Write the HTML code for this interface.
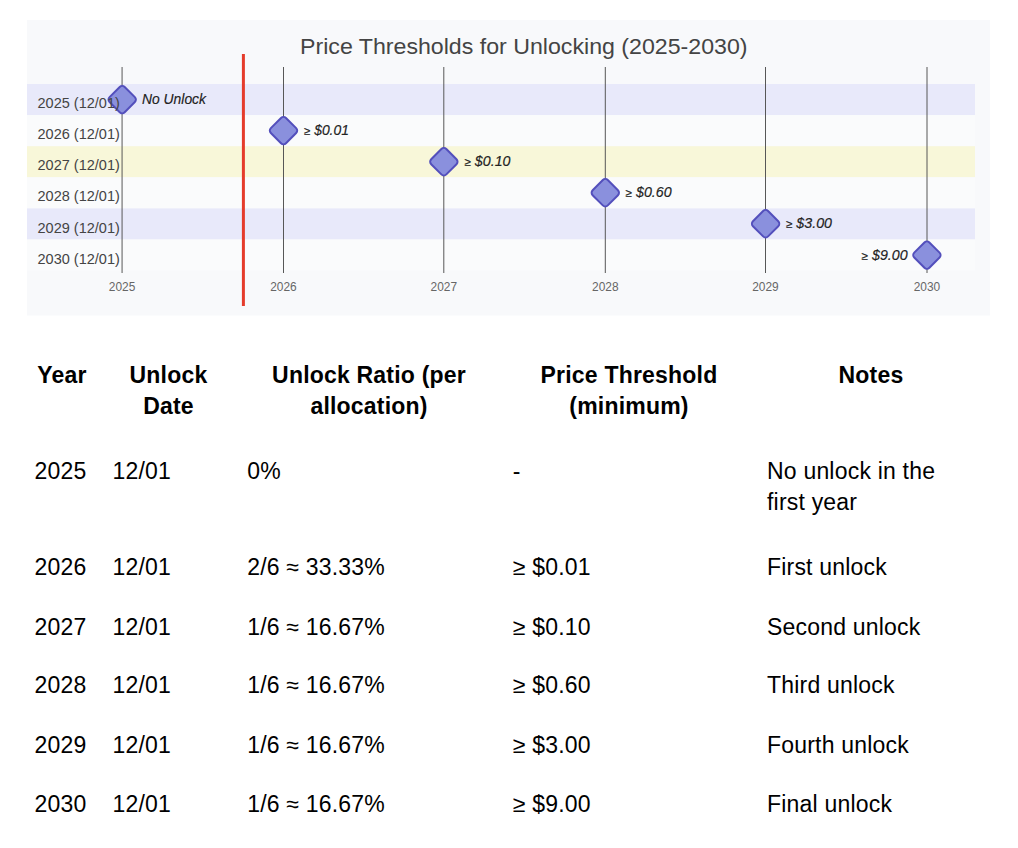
<!DOCTYPE html>
<html><head><meta charset="utf-8">
<style>
html,body{margin:0;padding:0;background:#fff;width:1018px;height:848px;overflow:hidden;}
body{position:relative;font-family:"Liberation Sans",sans-serif;color:#000;}
svg{position:absolute;left:0;top:0;}
.t{position:absolute;white-space:nowrap;font-size:23px;line-height:31px;height:31px;letter-spacing:0.2px;}
.h{font-weight:bold;text-align:center;}
</style></head>
<body>
<svg width="1018" height="330" viewBox="0 0 1018 330" font-family="Liberation Sans, sans-serif">
  <rect x="27" y="20" width="963" height="295.5" fill="#f8f9fb"/>
  <rect x="27" y="84.0" width="948" height="31.1" fill="#e8e9fa"/>
  <rect x="27" y="115.1" width="948" height="31.1" fill="#fafbfc"/>
  <rect x="27" y="146.2" width="948" height="31.1" fill="#f8f7d9"/>
  <rect x="27" y="177.3" width="948" height="31.1" fill="#fafbfc"/>
  <rect x="27" y="208.4" width="948" height="31.1" fill="#e8e9fa"/>
  <rect x="27" y="239.5" width="948" height="31.1" fill="#fafbfc"/>
  <g stroke="#575757" stroke-width="1">
    <line x1="122.07" y1="67" x2="122.07" y2="273"/>
    <line x1="283.5" y1="67" x2="283.5" y2="273"/>
    <line x1="443.8" y1="67" x2="443.8" y2="273"/>
    <line x1="605.3" y1="67" x2="605.3" y2="273"/>
    <line x1="765.5" y1="67" x2="765.5" y2="273"/>
    <line x1="927.0" y1="67" x2="927.0" y2="273"/>
  </g>
  <g fill="#666" font-size="13">
    <text x="122.07" y="290.8" text-anchor="middle" textLength="26.5" lengthAdjust="spacingAndGlyphs">2025</text>
    <text x="283.5" y="290.8" text-anchor="middle" textLength="26.5" lengthAdjust="spacingAndGlyphs">2026</text>
    <text x="443.8" y="290.8" text-anchor="middle" textLength="26.5" lengthAdjust="spacingAndGlyphs">2027</text>
    <text x="605.3" y="290.8" text-anchor="middle" textLength="26.5" lengthAdjust="spacingAndGlyphs">2028</text>
    <text x="765.5" y="290.8" text-anchor="middle" textLength="26.5" lengthAdjust="spacingAndGlyphs">2029</text>
    <text x="927.0" y="290.8" text-anchor="middle" textLength="26.5" lengthAdjust="spacingAndGlyphs">2030</text>
  </g>
  <line x1="243.4" y1="54" x2="243.4" y2="306" stroke="#e53b2b" stroke-width="3"/>
  <g fill="#8a90dd" stroke="#534fbc" stroke-width="2">
    <rect x="-10.7" y="-10.7" width="21.4" height="21.4" rx="3.5" ry="3.5" transform="translate(122.2 99.6) rotate(45)"/>
    <rect x="-10.7" y="-10.7" width="21.4" height="21.4" rx="3.5" ry="3.5" transform="translate(283.5 130.6) rotate(45)"/>
    <rect x="-10.7" y="-10.7" width="21.4" height="21.4" rx="3.5" ry="3.5" transform="translate(443.85 161.7) rotate(45)"/>
    <rect x="-10.7" y="-10.7" width="21.4" height="21.4" rx="3.5" ry="3.5" transform="translate(605.3 192.7) rotate(45)"/>
    <rect x="-10.7" y="-10.7" width="21.4" height="21.4" rx="3.5" ry="3.5" transform="translate(765.6 223.7) rotate(45)"/>
    <rect x="-10.7" y="-10.7" width="21.4" height="21.4" rx="3.5" ry="3.5" transform="translate(926.9 255.1) rotate(45)"/>
  </g>
  <g fill="#444" font-size="14">
    <text x="37.5" y="108.1" textLength="82.3" lengthAdjust="spacingAndGlyphs">2025 (12/01)</text>
    <text x="37.5" y="139.2" textLength="82.3" lengthAdjust="spacingAndGlyphs">2026 (12/01)</text>
    <text x="37.5" y="170.3" textLength="82.3" lengthAdjust="spacingAndGlyphs">2027 (12/01)</text>
    <text x="37.5" y="201.4" textLength="82.3" lengthAdjust="spacingAndGlyphs">2028 (12/01)</text>
    <text x="37.5" y="232.5" textLength="82.3" lengthAdjust="spacingAndGlyphs">2029 (12/01)</text>
    <text x="37.5" y="263.6" textLength="82.3" lengthAdjust="spacingAndGlyphs">2030 (12/01)</text>
  </g>
  <g fill="#222" stroke="#222" stroke-width="0.15" font-size="14" font-style="italic">
    <text x="142" y="103.5" textLength="64" lengthAdjust="spacingAndGlyphs">No Unlock</text>
    <text x="304" y="134.6" textLength="45" lengthAdjust="spacingAndGlyphs"><tspan font-size="11.5">≥</tspan> $0.01</text>
    <text x="464.5" y="165.8" textLength="46" lengthAdjust="spacingAndGlyphs"><tspan font-size="11.5">≥</tspan> $0.10</text>
    <text x="625.6" y="196.5" textLength="46" lengthAdjust="spacingAndGlyphs"><tspan font-size="11.5">≥</tspan> $0.60</text>
    <text x="786" y="228.3" textLength="46" lengthAdjust="spacingAndGlyphs"><tspan font-size="11.5">≥</tspan> $3.00</text>
    <text x="861.6" y="259.5" textLength="46" lengthAdjust="spacingAndGlyphs"><tspan font-size="11.5">≥</tspan> $9.00</text>
  </g>
  <text x="300" y="53.7" fill="#444" font-size="22" textLength="447.5" lengthAdjust="spacingAndGlyphs">Price Thresholds for Unlocking (2025-2030)</text>
</svg>

<!-- table header -->
<div class="t h" style="left:23px;width:78px;top:360.2px;">Year</div>
<div class="t h" style="left:101px;width:135px;top:360.2px;">Unlock</div>
<div class="t h" style="left:101px;width:135px;top:391.2px;">Date</div>
<div class="t h" style="left:236px;width:266px;top:360.2px;">Unlock Ratio (per</div>
<div class="t h" style="left:236px;width:266px;top:391.2px;">allocation)</div>
<div class="t h" style="left:502px;width:254px;top:360.2px;">Price Threshold</div>
<div class="t h" style="left:502px;width:254px;top:391.2px;">(minimum)</div>
<div class="t h" style="left:756px;width:230px;top:360.2px;">Notes</div>

<!-- rows -->
<div class="t" style="left:34.5px;top:456px;">2025</div>
<div class="t" style="left:112.5px;top:456px;">12/01</div>
<div class="t" style="left:247.2px;top:456px;">0%</div>
<div class="t" style="left:512.8px;top:456px;">-</div>
<div class="t" style="left:767px;top:456px;">No unlock in the</div>
<div class="t" style="left:767px;top:487px;">first year</div>

<div class="t" style="left:34.5px;top:551.5px;">2026</div>
<div class="t" style="left:112.5px;top:551.5px;">12/01</div>
<div class="t" style="left:247.2px;top:551.5px;">2/6 ≈ 33.33%</div>
<div class="t" style="left:512.8px;top:551.5px;"><tspan font-size="11.5">≥</tspan> $0.01</div>
<div class="t" style="left:767px;top:551.5px;">First unlock</div>

<div class="t" style="left:34.5px;top:611.7px;">2027</div>
<div class="t" style="left:112.5px;top:611.7px;">12/01</div>
<div class="t" style="left:247.2px;top:611.7px;">1/6 ≈ 16.67%</div>
<div class="t" style="left:512.8px;top:611.7px;"><tspan font-size="11.5">≥</tspan> $0.10</div>
<div class="t" style="left:767px;top:611.7px;">Second unlock</div>

<div class="t" style="left:34.5px;top:670.4px;">2028</div>
<div class="t" style="left:112.5px;top:670.4px;">12/01</div>
<div class="t" style="left:247.2px;top:670.4px;">1/6 ≈ 16.67%</div>
<div class="t" style="left:512.8px;top:670.4px;"><tspan font-size="11.5">≥</tspan> $0.60</div>
<div class="t" style="left:767px;top:670.4px;">Third unlock</div>

<div class="t" style="left:34.5px;top:729.8px;">2029</div>
<div class="t" style="left:112.5px;top:729.8px;">12/01</div>
<div class="t" style="left:247.2px;top:729.8px;">1/6 ≈ 16.67%</div>
<div class="t" style="left:512.8px;top:729.8px;"><tspan font-size="11.5">≥</tspan> $3.00</div>
<div class="t" style="left:767px;top:729.8px;">Fourth unlock</div>

<div class="t" style="left:34.5px;top:788.7px;">2030</div>
<div class="t" style="left:112.5px;top:788.7px;">12/01</div>
<div class="t" style="left:247.2px;top:788.7px;">1/6 ≈ 16.67%</div>
<div class="t" style="left:512.8px;top:788.7px;"><tspan font-size="11.5">≥</tspan> $9.00</div>
<div class="t" style="left:767px;top:788.7px;">Final unlock</div>
</body></html>
